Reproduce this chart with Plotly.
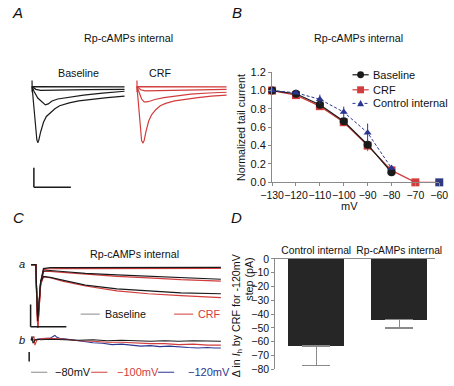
import plotly.graph_objects as go

W, H = 454, 386
FONT = "Liberation Sans, Arial, Helvetica, sans-serif"
BLACK = "#1a1a1a"
RED = "#d23c3c"
BLUE = "#2a3590"
NAVY = "#303a80"
GRAY = "#8a8a8a"
BAR = "#262626"

# ---------------- DATA ----------------
# Panel A - tail-current traces (time in ms, current in pA)
A_BASE_T1 = [0, 2, 5, 10, 300, 700, 1000]
A_BASE_I1 = [60, -60, 0, -3, -3, -4, -5]
A_BASE_T2 = [0, 41, 93, 299, 608, 1000]
A_BASE_I2 = [0, -30, -40, -35, -33, -30]
A_BASE_T3 = [0, 21, 62, 103, 144, 175, 216, 278, 402, 557, 763, 1000]
A_BASE_I3 = [0, -50, -120, -160, -190, -180, -150, -130, -110, -90, -70, -50]
A_BASE_T4 = [0, 10, 31, 52, 62, 72, 93, 124, 155, 196, 247, 299, 402, 505, 660, 814, 1000]
A_BASE_I4 = [0, -120, -370, -550, -580, -560, -470, -370, -310, -270, -230, -200, -170, -150, -130, -115, -100]

A_CRF_T1 = [0, 2, 5, 10, 300, 700, 1000]
A_CRF_I1 = [60, -60, 0, -3, -3, -4, -5]
A_CRF_T2 = [0, 41, 93, 299, 608, 1000]
A_CRF_I2 = [0, -35, -45, -40, -35, -30]
A_CRF_T3 = [0, 21, 52, 80, 110, 150, 200, 300, 450, 600, 800, 1000]
A_CRF_I3 = [0, -60, -130, -160, -160, -150, -135, -115, -95, -80, -68, -60]
A_CRF_T4 = [0, 10, 31, 52, 68, 80, 100, 130, 165, 210, 260, 320, 420, 520, 680, 830, 1000]
A_CRF_I4 = [0, -120, -380, -560, -585, -560, -470, -360, -290, -240, -200, -175, -150, -135, -115, -100, -90]

# Panel B - normalized tail current vs voltage
B_V = [-130, -120, -110, -100, -90, -80]
B_BASE = [1.0, 0.965, 0.845, 0.665, 0.41, 0.11]
B_BASE_ERR = [0, 0.01, 0.02, 0.02, 0.03, 0.01]
B_CRF_V = [-130, -120, -110, -100, -90, -80, -70, -60]
B_CRF = [1.0, 0.95, 0.83, 0.655, 0.40, 0.13, 0.0, 0.0]
B_CRF_ERR = [0, 0.01, 0.02, 0.03, 0.06, 0.02, 0, 0]
B_CTRL = [1.0, 0.975, 0.905, 0.765, 0.54, 0.155]
B_CTRL_ERR = [0, 0.01, 0.05, 0.06, 0.10, 0.02]
B_TICKS = [-130, -120, -110, -100, -90, -80, -70, -60]
B_LEGEND = ["Baseline", "CRF", "Control internal"]

# Panel C(a) - currents (time in ms, current in pA)
C_T = [-50, 0, 10, 20, 30, 50, 80, 150, 280, 520, 850, 1180, 1520, 1940]
C_BASE_1 = [0, 0, -330, -580, -450, -180, -40, -30, -30, -30, -30, -30, -30, -27]
C_CRF_1 = [0, 0, -380, -650, -510, -210, -50, -42, -40, -40, -40, -40, -39, -37]
C_BASE_2 = [0, 0, -330, -580, -450, -180, -65, -60, -70, -90, -105, -120, -135, -150]
C_CRF_2 = [0, 0, -380, -650, -510, -210, -70, -68, -80, -100, -120, -135, -155, -170]
C_BASE_3 = [0, 0, -330, -580, -450, -180, -120, -130, -160, -210, -250, -270, -290, -300]
C_CRF_3 = [0, 0, -380, -650, -510, -210, -125, -135, -170, -220, -270, -300, -320, -340]

# Panel C(b) - CRF-sensitive difference currents (time in ms, current in pA)
CB_T_80 = [-50, -40, -30, -10, 20, 50, 150, 300, 450, 600, 750, 900, 1050, 1200, 1350, 1500, 1650, 1800, 1940]
CB_I_80 = [0, 8, -6, 0, 2, 1, 2, 1, 0, 1, -1, 0, -1, -2, -1, -2, -1, -2, -2]
CB_T_100 = [-50, -20, -10, 10, 50, 100, 150, 250, 350, 450, 600, 750, 900, 1050, 1200, 1350, 1500, 1650, 1800, 1940]
CB_I_100 = [0, 8, -10, 0, 3, 4, 4, 3, 1, -1, -2, -4, -4, -6, -7, -7, -9, -8, -10, -10]
CB_T_120 = [-50, 0, 50, 100, 150, 180, 200, 220, 250, 300, 400, 500, 600, 700, 800, 900, 1000, 1100,
            1200, 1300, 1400, 1500, 1600, 1700, 1800, 1870, 1940]
CB_I_120 = [0, 2, 3, 4, 4, 8, 10, 6, 4, 3, 0, -2, -5, -6, -9, -8, -10, -12, -11, -13, -12, -14, -15,
            -16, -15, -16, -16]

# Panel D - change in Ih by CRF
D_CATS = ["Control internal", "Rp-cAMPs internal"]
D_VALS = [-63, -44]
D_ERR = [14, 6]
D_TICKS = [0, -10, -20, -30, -40, -50, -60, -70, -80]

# Scale bars
SB_A = dict(t0=20, i0=-1040, dt=400, di=200)
SB_CA = dict(t0=-55, i0=-640, dt=375, di=230)
SB_CB = dict(t0=-70, i0=-44, di=20)


# ---------------- HELPERS ----------------
def px(x):
    return x / W


def py(y):
    return 1 - y / H


def dom_x(p0, p1):
    return [px(p0), px(p1)]


def dom_y(top, bot):
    return [py(bot), py(top)]


def lin_range(p0, p1, origin, k):
    return [(p0 - origin) / k, (p1 - origin) / k]


fig = go.Figure()


def line(x, y, ax, color, width=1.2, dash=None):
    fig.add_trace(go.Scatter(x=x, y=y, mode="lines", xaxis="x" + ax, yaxis="y" + ax,
                             line=dict(color=color, width=width, dash=dash),
                             showlegend=False, hoverinfo="skip"))


# Panel A
for t, i in [(A_BASE_T1, A_BASE_I1), (A_BASE_T2, A_BASE_I2), (A_BASE_T3, A_BASE_I3), (A_BASE_T4, A_BASE_I4)]:
    line(t, i, "", BLACK)
for t, i in [(A_CRF_T1, A_CRF_I1), (A_CRF_T2, A_CRF_I2), (A_CRF_T3, A_CRF_I3), (A_CRF_T4, A_CRF_I4)]:
    line(t, i, "2", RED)

# Panel B
fig.add_trace(go.Scatter(x=B_CRF_V, y=B_CRF, mode="lines+markers", name="CRF", xaxis="x3", yaxis="y3",
                         line=dict(color=RED, width=1.2),
                         marker=dict(symbol="square", size=8,
                                     color=[RED] * (len(B_CRF) - 1) + [NAVY]),
                         error_y=dict(type="data", array=B_CRF_ERR, color=RED, thickness=1, width=0),
                         showlegend=False, cliponaxis=False, hoverinfo="skip"))
fig.add_trace(go.Scatter(x=B_V, y=B_BASE, mode="lines+markers", name="Baseline", xaxis="x3", yaxis="y3",
                         line=dict(color=BLACK, width=1.2),
                         marker=dict(symbol="circle", size=8, color=BLACK),
                         error_y=dict(type="data", array=B_BASE_ERR, color=BLACK, thickness=1, width=0),
                         showlegend=False, cliponaxis=False, hoverinfo="skip"))
fig.add_trace(go.Scatter(x=B_V, y=B_CTRL, mode="lines+markers", name="Control internal", xaxis="x3", yaxis="y3",
                         line=dict(color=BLUE, width=1, dash="3px,2px"),
                         marker=dict(symbol="triangle-up", size=7, color=BLUE),
                         error_y=dict(type="data", array=B_CTRL_ERR, color=BLUE, thickness=1, width=0),
                         showlegend=False, cliponaxis=False, hoverinfo="skip"))

# Panel C(a)
for b, c in [(C_BASE_1, C_CRF_1), (C_BASE_2, C_CRF_2), (C_BASE_3, C_CRF_3)]:
    line(C_T, c, "4", RED)
    line(C_T, b, "4", BLACK)

# Panel C(b)
line(CB_T_120, CB_I_120, "5", BLUE, 1.1)
line(CB_T_100, CB_I_100, "5", RED, 1.1)
line(CB_T_80, CB_I_80, "5", BLACK, 1.1)

# Panel D
fig.add_trace(go.Bar(x=D_CATS, y=D_VALS, xaxis="x6", yaxis="y6", width=0.667,
                     marker=dict(color=BAR, line=dict(width=0)),
                     error_y=dict(type="data", symmetric=False, array=[0] * len(D_VALS),
                                  arrayminus=D_ERR, color=GRAY, thickness=1.3, width=14),
                     showlegend=False, hoverinfo="skip"))

hidden = dict(visible=False, showgrid=False, zeroline=False)

# axis calibrations (pixel origin, pixels per unit)
A_X_BASE = (21, 0.097)
A_X_CRF = (131, 0.094)
A_Y = (83, -0.1)
C_X = (25, 0.1)
CA_Y = (267, -0.1)
CB_Y = (345, -0.5)

layout = dict(
    width=W, height=H, autosize=False,
    margin=dict(l=0, r=0, t=0, b=0, pad=0),
    paper_bgcolor="white", plot_bgcolor="white",
    font=dict(family=FONT, size=11, color="#111"),
    showlegend=False,
    xaxis=dict(hidden, domain=dom_x(14, 124), range=lin_range(14, 124, *A_X_BASE), anchor="y"),
    yaxis=dict(hidden, domain=dom_y(58, 196), range=lin_range(196, 58, *A_Y), anchor="x"),
    xaxis2=dict(hidden, domain=dom_x(126, 230), range=lin_range(126, 230, *A_X_CRF), anchor="y2"),
    yaxis2=dict(hidden, domain=dom_y(58, 196), range=lin_range(196, 58, *A_Y), anchor="x2"),
    xaxis3=dict(domain=dom_x(272.7, 448), range=[-130, -60], anchor="y3",
                tickvals=B_TICKS, ticks="outside", ticklen=3, tickcolor=GRAY, tickangle=0,
                showline=True, linecolor=GRAY, linewidth=1, showgrid=False, zeroline=False,
                tickfont=dict(size=10.5)),
    yaxis3=dict(domain=dom_y(68.3, 182), range=[0, 1.2], anchor="x3", dtick=0.2, tickformat=".1f",
                ticks="outside", ticklen=3, tickcolor=GRAY,
                showline=True, linecolor=GRAY, linewidth=1, showgrid=False, zeroline=False,
                tickfont=dict(size=11)),
    xaxis4=dict(hidden, domain=dom_x(12, 226), range=lin_range(12, 226, *C_X), anchor="y4"),
    yaxis4=dict(hidden, domain=dom_y(258, 336), range=lin_range(336, 258, *CA_Y), anchor="x4"),
    xaxis5=dict(hidden, domain=dom_x(12, 226), range=lin_range(12, 226, *C_X), anchor="y5"),
    yaxis5=dict(hidden, domain=dom_y(336, 372), range=lin_range(372, 336, *CB_Y), anchor="x5"),
    xaxis6=dict(domain=dom_x(276, 443), range=[-0.494, 1.425], anchor="y6", side="top",
                type="category", showline=True, linecolor=GRAY, linewidth=1, ticks="",
                showgrid=False, zeroline=False, tickfont=dict(size=10.3)),
    yaxis6=dict(domain=dom_y(261, 375), range=[-80, 0], anchor="x6", tickvals=D_TICKS,
                ticks="outside", ticklen=3, tickcolor=GRAY, showline=True, linecolor=GRAY,
                linewidth=1, showgrid=False, zeroline=False, tickfont=dict(size=10.5)),
    bargap=0,
)
fig.update_layout(**layout)

shapes = []


def seg(x0, y0, x1, y1, xr, yr, color=BLACK, width=1.5, dash=None):
    shapes.append(dict(type="line", x0=x0, y0=y0, x1=x1, y1=y1, xref=xr, yref=yr,
                       line=dict(color=color, width=width, dash=dash)))


# Scale bars (data coordinates)
seg(SB_A["t0"], SB_A["i0"], SB_A["t0"], SB_A["i0"] + SB_A["di"], "x", "y")
seg(SB_A["t0"], SB_A["i0"], SB_A["t0"] + SB_A["dt"], SB_A["i0"], "x", "y")
seg(SB_CA["t0"], SB_CA["i0"], SB_CA["t0"], SB_CA["i0"] + SB_CA["di"], "x4", "y4")
seg(SB_CA["t0"], SB_CA["i0"], SB_CA["t0"] + SB_CA["dt"], SB_CA["i0"], "x4", "y4")
seg(SB_CB["t0"], SB_CB["i0"], SB_CB["t0"], SB_CB["i0"] + SB_CB["di"], "x5", "y5")

# Legend samples for panel C (paper coordinates)
for x0, x1, yy, col in [(72, 92, 318, GRAY), (170, 190, 318, RED),
                        (20, 37, 378, GRAY), (83, 100, 378, RED), (153, 170, 378, BLUE)]:
    seg(px(x0), py(yy), px(x1), py(yy), "paper", "paper", col, 1)

# Legend samples for panel B (paper coordinates)
LEG_B_Y = [71, 86.5, 100.5]
seg(px(357), py(LEG_B_Y[0]), px(374), py(LEG_B_Y[0]), "paper", "paper", BLACK, 1.2)
seg(px(357), py(LEG_B_Y[1]), px(374), py(LEG_B_Y[1]), "paper", "paper", RED, 1.2)
seg(px(357), py(LEG_B_Y[2]), px(374), py(LEG_B_Y[2]), "paper", "paper", BLUE, 1, "dot")
r = 3.6
shapes.append(dict(type="circle", xref="paper", yref="paper", x0=px(365.5 - r), x1=px(365.5 + r),
                   y0=py(LEG_B_Y[0] + r), y1=py(LEG_B_Y[0] - r), fillcolor=BLACK, line=dict(width=0)))
shapes.append(dict(type="rect", xref="paper", yref="paper", x0=px(365.5 - r), x1=px(365.5 + r),
                   y0=py(LEG_B_Y[1] + r), y1=py(LEG_B_Y[1] - r), fillcolor=RED, line=dict(width=0)))
ty = LEG_B_Y[2]
shapes.append(dict(type="path", xref="paper", yref="paper",
                   path="M {:.5f},{:.5f} L {:.5f},{:.5f} L {:.5f},{:.5f} Z".format(
                       px(365.5 - 3.6), py(ty + 3), px(365.5 + 3.6), py(ty + 3), px(365.5), py(ty - 3.6)),
                   fillcolor=BLUE, line=dict(width=0)))

fig.update_layout(shapes=shapes)

ann = []


def text(t, x, y, size=11, color="#111", xanchor="center", angle=0, italic=False):
    if italic:
        t = "<i>" + t + "</i>"
    ann.append(dict(text=t, x=px(x), y=py(y), xref="paper", yref="paper", showarrow=False,
                    xanchor=xanchor, yanchor="middle", textangle=angle,
                    font=dict(size=size, color=color, family=FONT)))


text("A", 5.5, 7, 15, italic=True)
text("B", 236, 7, 15, italic=True)
text("C", 7, 218, 15, italic=True)
text("D", 235, 218, 15, italic=True)
text("Rp-cAMPs internal", 122, 33, 10.7)
text("Rp-cAMPs internal", 363, 33, 10.7)
text("Rp-cAMPs internal", 128, 256, 10.7)
text("Baseline", 70, 69, 10.7)
text("CRF", 155, 69, 10.7)
for lab, yy in zip(B_LEGEND, LEG_B_Y):
    text(lab, 376, yy, 11, xanchor="left")
text("Normalized tail current", 240, 125, 10.7, angle=-90)
text("mV", 354, 206, 11)
text("a", 10, 266, 11, italic=True)
text("b", 10, 345, 11, italic=True)
text("Baseline", 95, 318, 10.7, xanchor="left")
text("CRF", 193, 318, 10.7, color=RED, xanchor="left")
text("\u221280mV", 43, 378, 11, xanchor="left")
text("\u2212100mV", 108, 378, 11, color=RED, xanchor="left")
text("\u2212120mV", 182, 378, 11, color=BLUE, xanchor="left")
text("\u0394 in <i>I</i><sub>h</sub> by CRF for -120mV", 236, 319, 10.7, angle=-90)
text("step (pA)", 249, 282, 10.7, angle=-90)
fig.update_layout(annotations=ann)

fig.write_html("out.html", config={"displayModeBar": False},
               post_script="document.body.style.margin='0px';document.body.style.padding='0px';")
